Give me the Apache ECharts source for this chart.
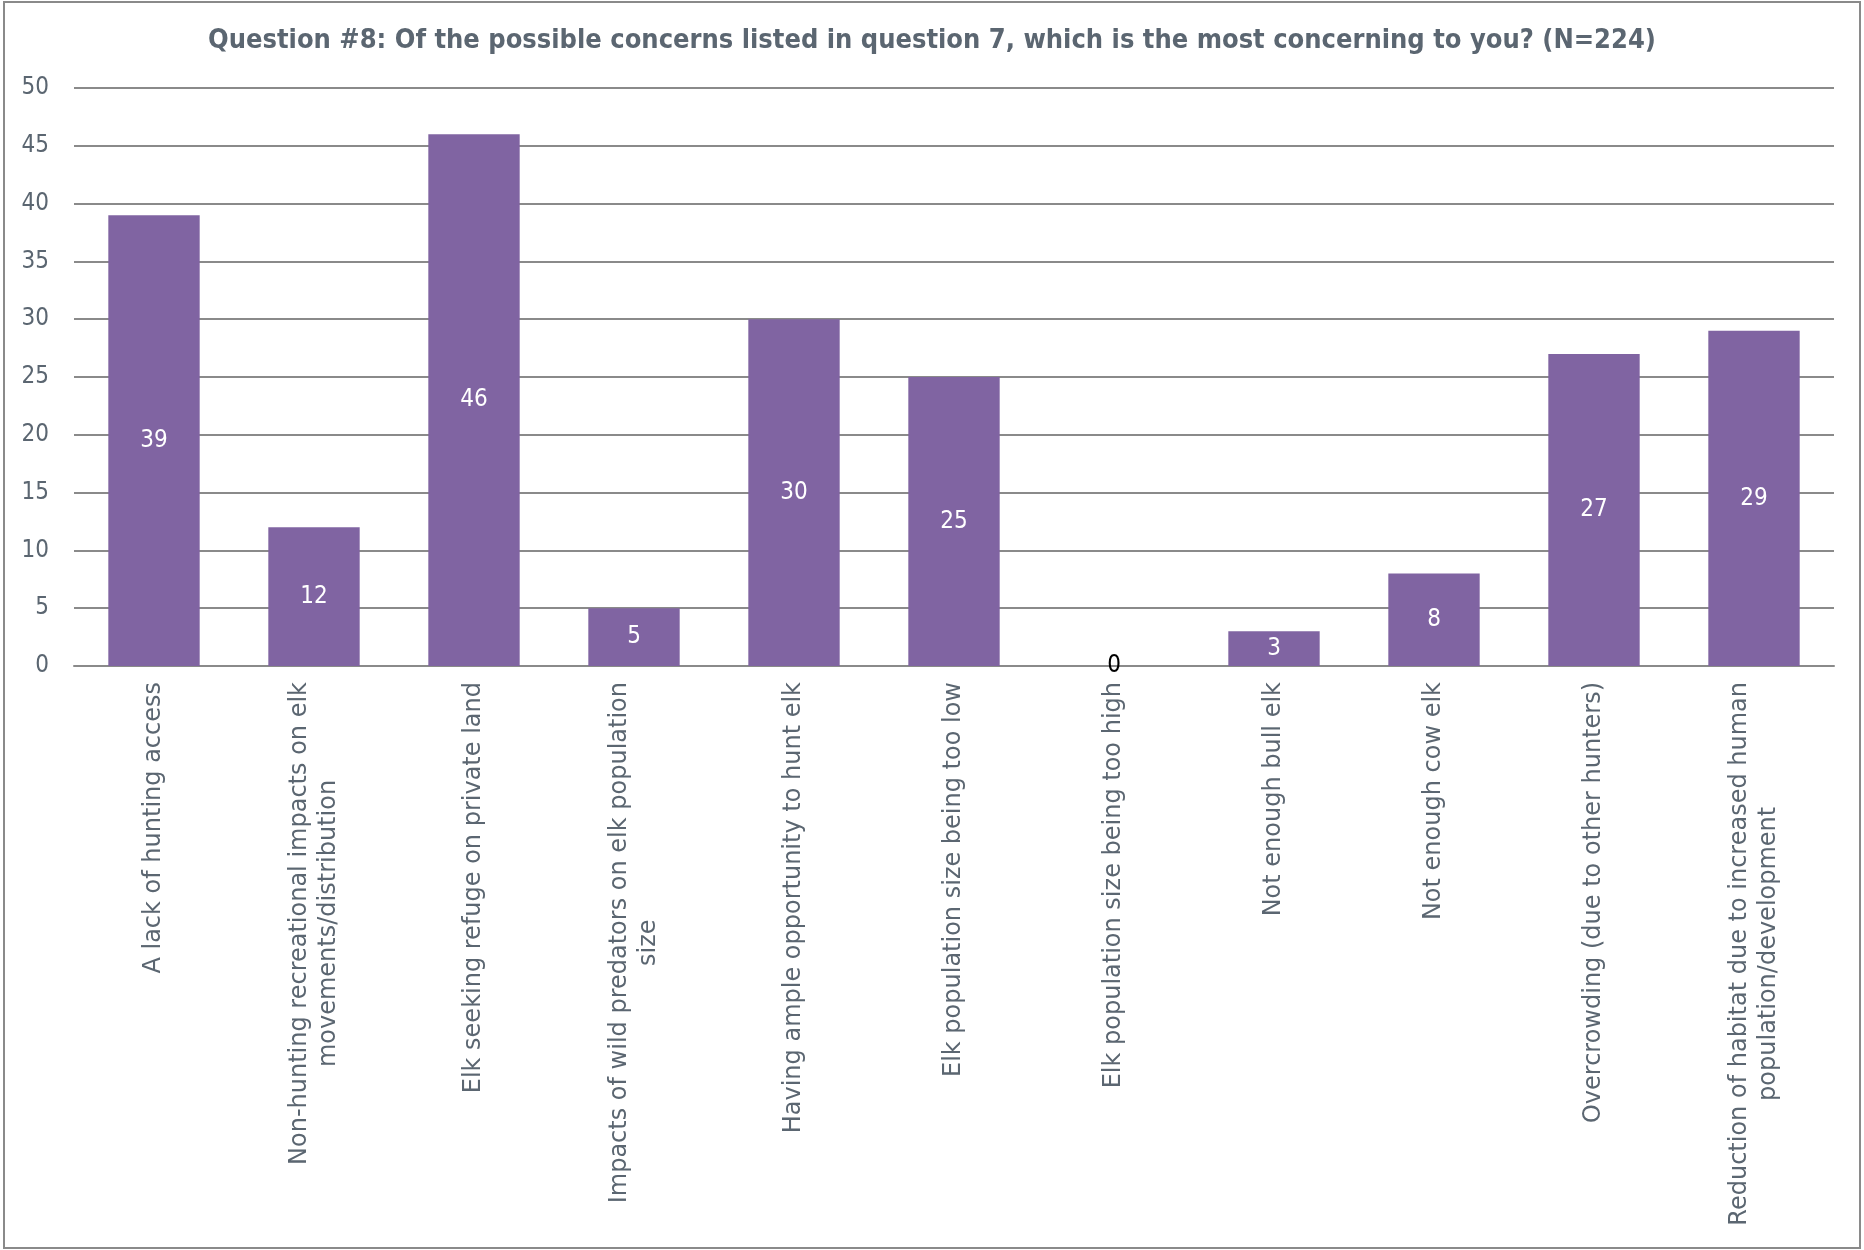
<!DOCTYPE html>
<html>
<head>
<meta charset="utf-8">
<script src="https://cdn.jsdelivr.net/npm/echarts@6/dist/echarts.min.js"></script>
<style>
html,body{margin:0;padding:0;background:#fff;}
#chart{width:1864px;height:1250px;}
</style>
</head>
<body>
<div id="chart"></div>
<script>
const titleText = 'Question #8: Of the possible concerns listed in question 7, which is the most concerning to you? (N=224)';
const categories = [
  'A lack of hunting access',
  'Non-hunting recreational impacts on elk\nmovements/distribution',
  'Elk seeking refuge on private land',
  'Impacts of wild predators on elk population\nsize',
  'Having ample opportunity to hunt elk',
  'Elk population size being too low',
  'Elk population size being too high',
  'Not enough bull elk',
  'Not enough cow elk',
  'Overcrowding (due to other hunters)',
  'Reduction of habitat due to increased human\npopulation/development'
];
const values = [39, 12, 46, 5, 30, 25, 0, 3, 8, 27, 29];
const yTicks = [0, 5, 10, 15, 20, 25, 30, 35, 40, 45, 50];

const textColor = '#5b6671';
const barColor = '#8064a2';
const gridColor = '#8a8a8a';

const chart = echarts.init(document.getElementById('chart'), null, {renderer: 'canvas'});
chart.setOption({
  animation: false,
  backgroundColor: '#ffffff',
  title: {
    text: titleText,
    left: 'center',
    top: 22,
    textStyle: {
      fontFamily: 'DejaVu Sans Condensed',
      fontWeight: 'bold',
      fontSize: 27,
      color: textColor
    }
  },
  graphic: [{
    type: 'rect',
    shape: {x: 4, y: 2, width: 1856, height: 1246},
    style: {fill: 'none', stroke: '#8a8a8a', lineWidth: 2},
    silent: true
  }],
  grid: {left: 74, right: 30, top: 88, bottom: 584, containLabel: false},
  xAxis: {
    type: 'category',
    data: categories,
    axisLine: {show: true, lineStyle: {color: gridColor, width: 2}},
    axisTick: {show: false},
    axisLabel: {
      interval: 0,
      rotate: 90,
      margin: 16,
      fontFamily: 'DejaVu Sans',
      fontSize: 24,
      color: textColor,
      formatter: function (v) {
        return v.split('\n').map(function (l) { return '{c|' + l + '}'; }).join('\n');
      },
      rich: {
        c: {align: 'center', fontFamily: 'DejaVu Sans', fontSize: 24, color: textColor, lineHeight: 29}
      }
    }
  },
  yAxis: {
    type: 'value',
    min: yTicks[0],
    max: yTicks[yTicks.length - 1],
    interval: 5,
    axisLine: {show: false},
    axisTick: {show: false},
    splitLine: {show: true, lineStyle: {color: gridColor, width: 2}},
    axisLabel: {
      margin: 25,
      fontFamily: 'DejaVu Sans Condensed',
      fontSize: 24,
      color: textColor
    }
  },
  series: [{
    type: 'bar',
    data: values.map(function (v) {
      return v === 0 ? {value: v, label: {color: '#000000'}} : v;
    }),
    barCategoryGap: '42.9%',
    itemStyle: {color: barColor},
    label: {
      show: true,
      position: 'inside',
      color: '#ffffff',
      fontFamily: 'DejaVu Sans Condensed',
      fontSize: 24
    }
  }]
});
</script>
</body>
</html>
